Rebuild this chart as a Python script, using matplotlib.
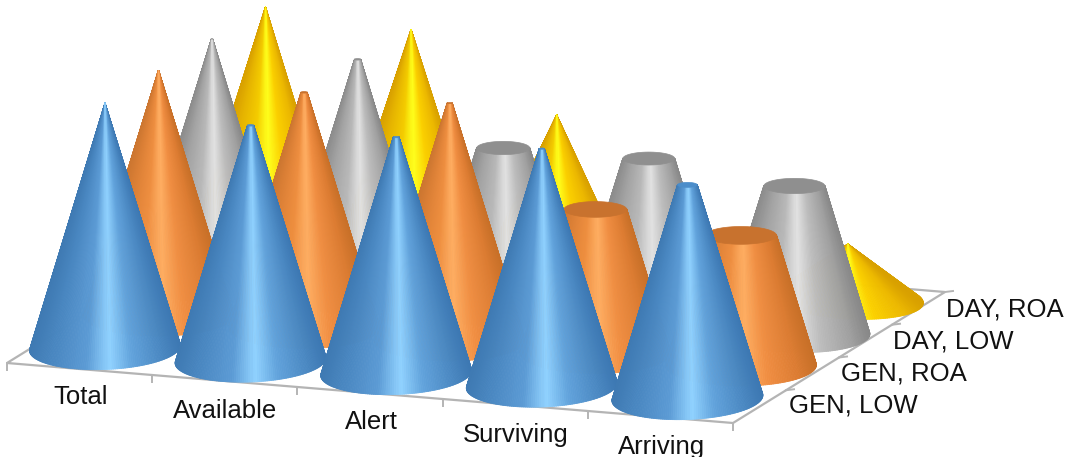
import numpy as np
import matplotlib
matplotlib.use("Agg")
import matplotlib.pyplot as plt
from matplotlib.collections import PolyCollection
from matplotlib.colors import LinearSegmentedColormap
from matplotlib.patches import Polygon

plt.rcParams['font.family'] = ['Liberation Sans', 'DejaVu Sans']

categories = ["Total", "Available", "Alert", "Surviving", "Arriving"]
series_names = ["GEN, LOW", "GEN, ROA", "DAY, LOW", "DAY, ROA"]
gen_low = [100.0, 96.0, 96.3, 96.7, 87.0]
gen_roa = [99.6, 96.0, 96.7, 58.4, 52.9]
day_low = [99.2, 96.0, 64.9, 65.7, 59.6]
day_roa = [98.8, 94.7, 64.9, 0.0, 22.4]
series_values = [gen_low, gen_roa, day_low, day_roa]
truncated = [True, True, True, False]
axis_max = 100.0

# colour across the visible face, from left silhouette to right silhouette
ramps = [
    ["#3f7ab3", "#4a88c2", "#5c9bd5", "#90d2ff", "#62a3dc", "#4a88c2", "#3d78b3"],
    ["#cc7630", "#dc8036", "#ee8e40", "#ffae62", "#f08e42", "#dc7c32", "#c87028"],
    ["#8c8c8c", "#a2a2a2", "#b8b8b8", "#e2e2e2", "#bcbcbc", "#a0a0a0", "#888888"],
    ["#d8a000", "#e6b400", "#f4cc00", "#ffff1c", "#fbd000", "#ecb800", "#d8a000"],
]
stops = [0.0, 0.16, 0.38, 0.53, 0.68, 0.88, 1.0]
cap_colors = ["#4b8dca", "#c8722e", "#8f8f8f", "#e8b400"]

# projection of the chart box on the page
origin_x, origin_y = 105.0, 348.0
cat_dx, cat_dy = 145.6, 12.5
ser_dx, ser_dy = 53.5, -33.0
unit_px = 2.45
radius = 75.5
base_minor = [21.5, 21.0, 20.5, 20.0]
tilt_deg = [-2.0, 0.0, 1.5, 3.0]

fig = plt.figure(figsize=(10.76, 4.57), dpi=100)
ax = fig.add_axes([0, 0, 1, 1])
ax.set_xlim(0, 1076)
ax.set_ylim(457, 0)
ax.axis("off")


def floor_xy(c, k):
    """Page position of a floor point, c along categories and k along series."""
    return (7 + 145.2 * c + 53.0 * k, 363 + 12.0 * c - 32.75 * k)


corners = [floor_xy(0, 0), floor_xy(5, 0), floor_xy(5, 4), floor_xy(0, 4)]
ax.add_patch(Polygon(corners, closed=True, fc="white", ec="#b4b4b4", lw=1.6, zorder=1))
for c in range(6):
    x, y = floor_xy(c, 0)
    ax.plot([x, x], [y, y + 7], color="#b4b4b4", lw=1.4, zorder=1)
for k in range(1, 5):
    x, y = floor_xy(5, k)
    ax.plot([x, x + 8], [y, y - 1], color="#b4b4b4", lw=1.4, zorder=1)


def draw_cone(c, k, value, z):
    cx = origin_x + cat_dx * c + ser_dx * k
    cy = origin_y + cat_dy * c + ser_dy * k
    height = value * unit_px
    full = height if not truncated[k] else axis_max * unit_px
    frac = height / full
    top_r = radius * (1 - frac)
    minor = base_minor[k]
    t = np.tan(np.radians(tilt_deg[k]))

    # the silhouette touches the base a little behind its widest points
    delta = np.arcsin(min(minor / full, 0.9))
    theta = np.linspace(-delta, np.pi + delta, 121)
    cap_ratio = 0.25

    bx = cx + radius * np.cos(theta)
    by = cy + minor * np.sin(theta) + t * radius * np.cos(theta)
    tx = cx + top_r * np.cos(theta)
    ty = cy - height + top_r * cap_ratio * np.sin(theta)

    polys, shades, depth = [], [], []
    for i in range(len(theta) - 1):
        polys.append([(bx[i], by[i]), (bx[i + 1], by[i + 1]),
                      (tx[i + 1], ty[i + 1]), (tx[i], ty[i])])
        mid = 0.5 * (theta[i] + theta[i + 1])
        shades.append(0.5 * (1 + np.cos(mid)))
        depth.append(np.sin(mid))
    order = np.argsort(depth)
    cmap = LinearSegmentedColormap.from_list(f"s{k}", list(zip(stops, ramps[k])))
    coll = PolyCollection([polys[i] for i in order], cmap=cmap, zorder=z,
                          edgecolors="face", linewidths=0.6)
    coll.set_array(np.clip(np.array(shades)[order], 0, 1))
    coll.set_clim(0, 1)
    ax.add_collection(coll)

    if top_r > 0.5:
        a = np.linspace(0, 2 * np.pi, 60)
        cap = np.column_stack([cx + top_r * np.cos(a),
                               cy - height + top_r * cap_ratio * np.sin(a)])
        ax.add_patch(Polygon(cap, closed=True, fc=cap_colors[k], ec=cap_colors[k],
                             lw=0.5, zorder=z + 0.5))


z = 2
for k in range(3, -1, -1):
    for c, value in enumerate(series_values[k]):
        if value > 0:
            draw_cone(c, k, value, z)
        z += 1

label_font = 18.5
cat_label_xy = [(81, 397), (225, 411), (371, 422), (516, 435), (662, 447)]
for name, (x, y) in zip(categories, cat_label_xy):
    ax.text(x, y, name, ha="center", va="center", fontsize=label_font,
            color="#111111", zorder=100)
ser_label_xy = [(789, 406), (841, 374), (893, 341), (946, 309)]
for name, (x, y) in zip(series_names, ser_label_xy):
    ax.text(x, y, name, ha="left", va="center", fontsize=label_font,
            color="#111111", zorder=100)

fig.savefig("out.png", dpi=100, facecolor="white")
